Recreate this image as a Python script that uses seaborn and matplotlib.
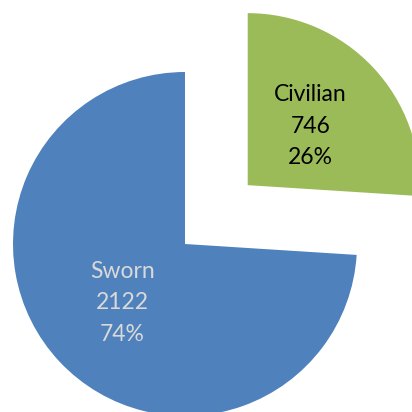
import matplotlib
matplotlib.use("Agg")
import matplotlib.pyplot as plt
import seaborn as sns

categories = ["Sworn", "Civilian"]
counts = [2122, 746]
percents = [74, 26]

colors = ["#4F81BD", "#9BBB59"]
text_colors = ["#D9D9D9", "black"]

sns.set_style("white")
plt.rcParams['font.family'] = ['Lato', 'DejaVu Sans']

fig = plt.figure(figsize=(4.12, 4.12), dpi=100)
ax = fig.add_axes([0, 0, 1, 1])

r = 172
labels = [f"{c}\n{n}\n{p}%" for c, n, p in zip(categories, counts, percents)]
wedges, texts = ax.pie(counts, labels=labels, colors=colors,
                       startangle=90, counterclock=True,
                       explode=[0, 0.5 * r], radius=r, center=(185, 168),
                       labeldistance=0.5, frame=False,
                       wedgeprops=dict(linewidth=0))

for t, tc in zip(texts, text_colors):
    t.set_ha("center")
    t.set_va("center")
    t.set_color(tc)
    t.set_fontsize(16.5)
    t.set_linespacing(1.62)

ax.set_xlim(0, 412)
ax.set_ylim(0, 412)
ax.set_aspect("equal")
ax.axis("off")

fig.savefig("out.png", dpi=100)
